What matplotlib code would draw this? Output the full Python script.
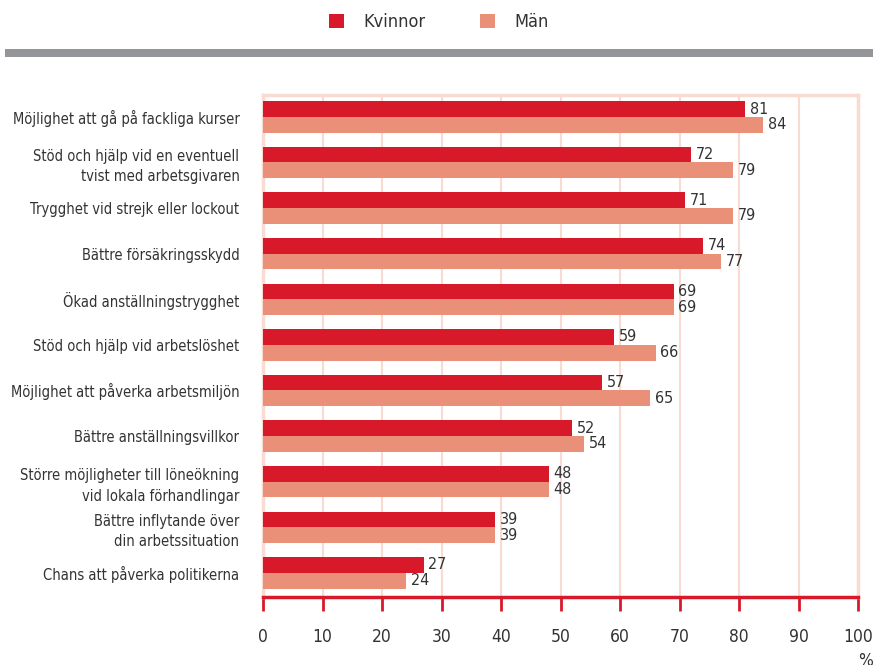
import numpy as np
import matplotlib.pyplot as plt
from matplotlib.patches import Rectangle

plt.rcParams['font.family'] = ['DejaVu Sans']
plt.rcParams['font.stretch'] = 'condensed'

# Data
kategorier = [
    "Möjlighet att gå på fackliga kurser",
    "Stöd och hjälp vid en eventuell\ntvist med arbetsgivaren",
    "Trygghet vid strejk eller lockout",
    "Bättre försäkringsskydd",
    "Ökad anställningstrygghet",
    "Stöd och hjälp vid arbetslöshet",
    "Möjlighet att påverka arbetsmiljön",
    "Bättre anställningsvillkor",
    "Större möjligheter till löneökning\nvid lokala förhandlingar",
    "Bättre inflytande över\ndin arbetssituation",
    "Chans att påverka politikerna",
]
kvinnor = [81, 72, 71, 74, 69, 59, 57, 52, 48, 39, 27]
man = [84, 79, 79, 77, 69, 66, 65, 54, 48, 39, 24]
xticks = list(range(0, 101, 10))

rod = '#d7192a'
lax = '#ea9078'
blek = '#f9dbd1'
text_farg = '#333333'

fig = plt.figure(figsize=(8.73, 6.65), dpi=100)
ax = fig.add_axes([263/873, 1-597/665, (858-263)/873, (597-95)/665])

y = np.arange(len(kategorier))
h = 0.345
ax.barh(y - h/2, kvinnor, height=h, color=rod, label='Kvinnor', zorder=3)
ax.barh(y + h/2, man, height=h, color=lax, label='Män', zorder=3)

for i in range(len(kategorier)):
    ax.text(kvinnor[i] + 0.8, y[i] - h/2, str(kvinnor[i]), va='center', ha='left',
            fontsize=11.5, color=text_farg)
    ax.text(man[i] + 0.8, y[i] + h/2, str(man[i]), va='center', ha='left',
            fontsize=11.5, color=text_farg)

ax.set_xlim(0, 100)
ax.set_ylim(10.53, -0.48)
ax.set_yticks(y)
ax.set_yticklabels(kategorier, fontsize=10.5, color=text_farg, linespacing=1.45)
ax.tick_params(axis='y', length=0, pad=17)
ax.set_xticks(xticks)
ax.set_xticklabels([str(t) for t in xticks], fontsize=12.5, color=text_farg)
ax.tick_params(axis='x', direction='out', length=10, width=2, color=rod, pad=12)

for t in xticks[1:]:
    ax.axvline(t, color=blek, lw=1.5, zorder=1)

for s in ['left', 'top', 'right']:
    ax.spines[s].set_color(blek)
    ax.spines[s].set_linewidth(2.5)
ax.spines['bottom'].set_color(rod)
ax.spines['bottom'].set_linewidth(2.5)

fig.text(866/873, 1-661/665, '%', fontsize=12.5, color=text_farg, ha='center', va='center')

# Gray band under legend
fig.add_artist(Rectangle((5/873, 1-57/665), 868/873, 8/665, transform=fig.transFigure,
                         color='#939598', lw=0))

fig.legend(loc='center', bbox_to_anchor=(0.503, 1-22/665), ncol=2, frameon=False,
           fontsize=13, handlelength=0.8, handleheight=0.8, columnspacing=3.0,
           handletextpad=1.1, labelcolor=text_farg)

fig.savefig('out.png', dpi=100)
